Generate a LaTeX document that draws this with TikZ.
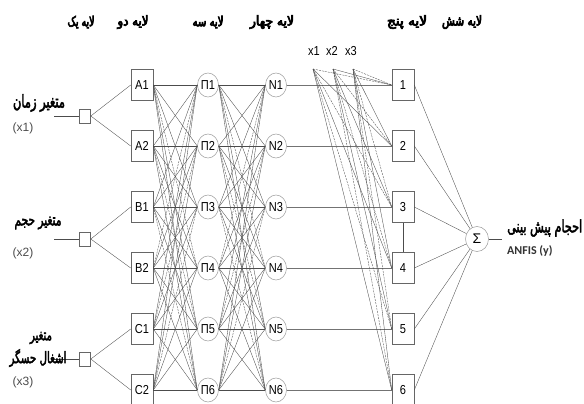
\documentclass[tikz,border=0pt]{standalone}
\usepackage{fontspec}
\setmainfont{Liberation Sans}
\newfontfamily\narrowfont[FakeStretch=0.85]{Liberation Sans}
\newfontfamily\farsi[Script=Arabic, FakeStretch=0.65, FakeBold=2.5]{DejaVu Sans}
\newfontfamily\farsih[Script=Arabic, FakeStretch=0.6, FakeBold=4]{DejaVu Sans}
\newfontfamily\calib{Carlito}
\usetikzlibrary{shapes.geometric}
\TeXXeTstate=1
\newcommand\fw[2]{\resizebox{#1pt}{!}{\farsi\fontsize{12}{12}\selectfont #2}}
\newcommand\fwh[3]{\resizebox{#1pt}{#2pt}{\farsih\fontsize{12}{12}\selectfont #3}}
\tikzset{
  boxn/.style={draw=black!60, line width=0.6pt, fill=white, minimum width=22pt, minimum height=31pt, inner sep=0pt, font=\narrowfont\fontsize{13}{13}\selectfont},
  circn/.style={ellipse, draw=black!40, line width=0.5pt, fill=white, minimum width=21pt, minimum height=24pt, inner sep=0pt, font=\narrowfont\fontsize{13}{13}\selectfont},
  sqn/.style={draw=black!60, line width=0.6pt, fill=white, minimum width=11pt, minimum height=14pt, inner sep=0pt},
  edge/.style={draw=black!70, line width=0.35pt},
  dedge/.style={edge, dash pattern=on 2pt off 1pt},
  ptxt/.style={inner sep=0pt},
  par/.style={font=\fontsize{12}{12}\selectfont, text=black!70, inner sep=0pt},
  xl/.style={font=\narrowfont\fontsize{13}{13}\selectfont, inner sep=0pt}
}
\begin{document}
\begin{tikzpicture}[x=1pt,y=-1pt]
\useasboundingbox[fill=white] (0,0) rectangle (584,404);
% headers
\node[ptxt] (h1) at (81,22) {\fwh{27}{10.5}{\beginR لایه یک\endR}};
\node[ptxt] (h2) at (133,22) {\fwh{31}{10.5}{\beginR لایه دو\endR}};
\node[ptxt] (h3) at (208,22) {\fwh{31}{10.5}{\beginR لایه سه\endR}};
\node[ptxt] (h4) at (272,22) {\fwh{44}{10.5}{\beginR لایه چهار\endR}};
\node[ptxt] (h5) at (407,22) {\fwh{40}{10.5}{\beginR لایه پنج\endR}};
\node[ptxt] (h6) at (462,22) {\fwh{40}{10.5}{\beginR لایه شش\endR}};
% x labels
\node[xl] (xl1) at (314,51) {x1};
\node[xl] (xl2) at (332,51) {x2};
\node[xl] (xl3) at (351,51) {x3};
\coordinate (f1) at (313,69);
\coordinate (f2) at (333,69);
\coordinate (f3) at (353,69);
% nodes
\foreach \lab [count=\i] in {A1,A2,B1,B2,C1,C2}{
  \pgfmathsetmacro\yy{85+(\i-1)*61}
  \node[boxn] (L2-\i) at (142,\yy) {\lab};
  \node[circn] (L3-\i) at (208,\yy) {Π\i};
  \node[circn] (L4-\i) at (276,\yy) {N\i};
  \node[boxn] (L5-\i) at (403,\yy) {\i};
}
\node[circn, minimum width=23pt, minimum height=25pt, font=\fontsize{14}{14}\selectfont] (sig) at (477,239) {Σ};
% layer 1
\node[sqn] (in1) at (85,116) {};
\node[sqn] (in2) at (85,239) {};
\node[sqn] (in3) at (85,359) {};
\coordinate (s1) at (54,116);
\coordinate (s2) at (54,239);
\coordinate (s3) at (54,359);
\draw[edge] (s1) -- (in1.west);
\draw[edge] (s2) -- (in2.west);
\draw[edge] (s3) -- (in3.west);
\draw[edge] (in1.east) -- (L2-1.west);
\draw[edge] (in1.east) -- (L2-2.west);
\draw[edge] (in2.east) -- (L2-3.west);
\draw[edge] (in2.east) -- (L2-4.west);
\draw[edge] (in3.east) -- (L2-5.west);
\draw[edge] (in3.east) -- (L2-6.west);
% layer 2 -> 3 and 3 -> 4
\foreach \i in {1,...,6}{
  \foreach \j in {1,...,6}{
    \pgfmathtruncatemacro\d{mod(\i+2*\j,3)}
    \pgfmathtruncatemacro\e{mod(2*\i+\j,3)}
    \ifnum\i=\j \def\d{1}\def\e{1}\fi
    \ifnum\d=0
      \draw[dedge] (L2-\i.east) -- (L3-\j.west);
    \else
      \draw[edge] (L2-\i.east) -- (L3-\j.west);
    \fi
    \ifnum\e=0
      \draw[dedge] (L3-\i.east) -- (L4-\j.west);
    \else
      \draw[edge] (L3-\i.east) -- (L4-\j.west);
    \fi
  }
}
% layer 4 -> 5
\foreach \i in {1,...,6}{
  \draw[edge, line width=0.6pt, draw=black!55] (L4-\i.east) -- (L5-\i.west);
  \foreach \k in {1,2,3}{
    \pgfmathtruncatemacro\d{mod(\i+\k,2)}
    \ifnum\d=0
      \draw[dedge] (f\k) -- (L5-\i.west);
    \else
      \draw[edge] (f\k) -- (L5-\i.west);
    \fi
  }
  \draw[edge] (L5-\i.east) -- (sig);
}
\draw[edge] (L5-3.south) -- (L5-4.north);
\coordinate (out) at (502,239);
\draw[edge] (sig.east) -- (out);
% left labels
\node[ptxt] (t1) at (39,103) {\fw{52}{\beginR متغیر زمان\endR}};
\node[par] (p1) at (23,128) {(x1)};
\node[ptxt] (t2) at (38,223) {\fw{47}{\beginR متغیر حجم\endR}};
\node[par] (p2) at (23,253) {(x2)};
\node[ptxt] (t3a) at (41,338) {\fw{22}{\beginR متغیر\endR}};
\node[ptxt] (t3b) at (38,358) {\fw{57}{\beginR اشغال حسگر\endR}};
\node[par] (p3) at (23,382) {(x3)};
% output labels
\node[ptxt, anchor=west] (o1) at (507,228) {\fw{75}{\beginR احجام پیش بینی\endR}};
\node[anchor=west, inner sep=0pt, font=\calib\bfseries\fontsize{12}{12}\selectfont, text=black!80] (o2) at (507,251) {ANFIS (y)};
\end{tikzpicture}
\end{document}
